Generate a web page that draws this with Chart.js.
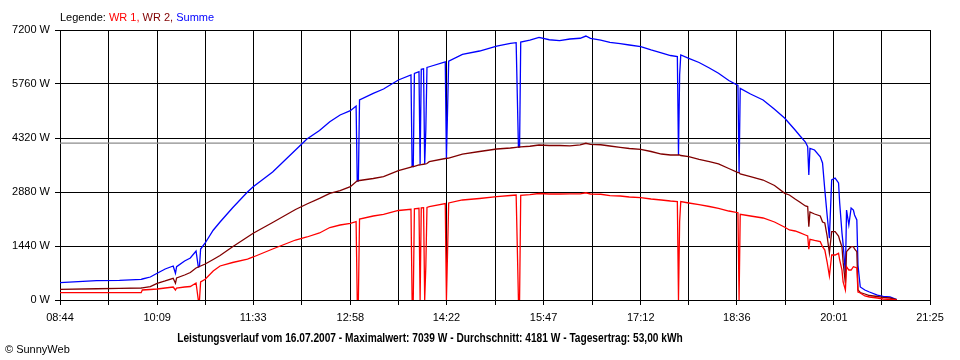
<!DOCTYPE html>
<html><head><meta charset="utf-8">
<script src="https://cdn.jsdelivr.net/npm/chart.js@4.4.0/dist/chart.umd.min.js"></script>
<style>
html,body{margin:0;padding:0;background:#fff;}
#wrap{position:relative;width:960px;height:360px;overflow:hidden;background:#fff;}
canvas{position:absolute;left:0;top:0;}
.txt{position:absolute;white-space:nowrap;font-family:'Liberation Sans',Arial,sans-serif;font-size:11px;line-height:11px;color:#000;}
#legend{left:60px;top:12px;}
#title{left:430px;top:332px;font-weight:bold;font-size:12.5px;line-height:12px;}
#copy{left:5px;top:344px;}
</style></head>
<body><div id="wrap"><canvas id="c" width="960" height="360"></canvas>
<div id="legend" class="txt"></div><div id="title" class="txt"></div><div id="copy" class="txt"></div></div>
<script>
// ---- data ----
const times = ['08:44','09:16','09:36','09:55','09:56','10:03','10:09','10:16','10:23','10:25','10:26','10:33','10:38','10:43','10:45','10:46','10:47','10:51','10:58','11:04','11:15','11:28','11:33','11:50','12:10','12:20','12:31','12:40','12:49','12:58','13:03','13:04','13:05','13:06','13:18','13:27','13:40','13:51','13:52','13:53','13:54','13:58','13:59','14:00','14:02','14:03','14:04','14:05','14:07','14:21','14:22','14:23','14:24','14:36','14:51','15:06','15:18','15:23','15:24','15:25','15:26','15:27','15:35','15:43','15:52','16:01','16:10','16:19','16:24','16:28','16:37','16:45','16:54','17:02','17:12','17:21','17:30','17:38','17:44','17:45','17:46','17:47','17:54','18:03','18:12','18:20','18:29','18:37','18:38','18:39','18:48','18:59','19:09','19:18','19:22','19:27','19:31','19:36','19:38','19:39','19:40','19:44','19:49','19:51','19:53','19:55','19:57','19:59','20:02','20:05','20:06','20:08','20:09','20:11','20:12','20:14','20:16','20:18','20:19','20:21','20:22','20:24','20:28','20:32','20:39','20:44','20:50','20:56'];
const wr1 = [195,195,195,195,267,280,293,320,347,267,320,347,360,453,0,0,480,552,775,907,1000,1093,1147,1360,1600,1680,1787,1933,2000,2045,2088,0,0,2160,2240,2285,2387,2420,0,0,2430,2445,0,2455,2460,0,900,2470,2488,2573,0,1280,2587,2667,2707,2755,2787,2800,1417,0,0,2790,2810,2840,2827,2827,2830,2830,2860,2827,2820,2781,2773,2747,2728,2693,2667,2640,2627,0,2088,2627,2587,2541,2493,2445,2373,2328,0,2285,2240,2187,2080,1939,1867,1840,1795,1733,1707,1352,1619,1587,1555,1421,1333,1013,640,1200,1200,1245,1067,800,480,267,888,800,800,888,880,853,213,187,107,80,53,27,13,0];
const wr2 = [285,300,312,320,322,355,445,507,579,445,587,667,733,853,880,893,907,960,1080,1187,1421,1680,1779,2067,2413,2560,2712,2845,2915,3021,3155,3173,3175,3187,3240,3288,3448,3540,3560,3560,3565,3600,3605,3610,3620,3625,3630,3640,3690,3773,3775,3780,3785,3893,3960,4027,4053,4072,4075,4075,4080,4085,4100,4133,4120,4120,4110,4135,4179,4152,4140,4107,4072,4040,4019,3960,3893,3867,3867,3867,3867,3853,3821,3752,3693,3627,3507,3395,3395,3360,3293,3200,3053,2845,2800,2693,2613,2507,2493,1955,2347,2293,2240,2080,2053,1707,1253,1821,1821,1707,1600,1413,1010,445,1288,1360,1421,1421,1360,1288,267,200,160,120,93,72,53,10];
const summe = [461,515,525,552,560,613,712,827,907,712,888,1040,1120,1307,880,893,1360,1520,1860,2080,2460,2880,3021,3413,4000,4293,4520,4755,4933,5048,5173,3173,3175,5333,5512,5627,5867,6000,3560,3560,6040,6090,3605,6150,6165,3625,4560,6200,6220,6347,3775,5060,6370,6552,6640,6773,6845,6861,5467,4075,4080,6880,6930,7005,6940,6915,6960,6980,7039,6978,6933,6870,6835,6800,6755,6667,6590,6520,6493,3867,6000,6533,6445,6333,6187,6045,5853,5720,3395,5645,5493,5333,5085,4845,4707,4533,4387,4213,4088,3333,4045,4000,3821,3653,2933,2267,1650,3200,3253,3120,2587,1787,1490,712,2400,2000,2453,2400,2267,2133,933,347,267,213,133,95,80,10];
const average = 4181;
const xTickLabels = ['08:44','10:09','11:33','12:58','14:22','15:47','17:12','18:36','20:01','21:25'];
const yTicks = [0,1440,2880,4320,5760,7200];
const legendPrefix = 'Legende: ';
const seriesNames = ['WR 1', 'WR 2', 'Summe'];
const titleText = 'Leistungsverlauf vom 16.07.2007 - Maximalwert: 7039 W - Durchschnitt: 4181 W - Tagesertrag: 53,00 kWh';
const copyText = '\u00A9 SunnyWeb';

// ---- build ----
const colors = ['#ff0000', '#800000', '#0000ff'];
const parseT = s => { const p = s.split(':'); return (+p[0]) * 60 + (+p[1]); };
const tx = times.map(parseT);
const pts = arr => arr.map((v, i) => ({x: tx[i], y: v}));
const labelVals = xTickLabels.map(parseT);
const tMin = labelVals[0], tMax = labelVals[labelVals.length - 1];
const gridVals = [];
labelVals.forEach((v, i) => { gridVals.push(v); if (i < labelVals.length - 1) gridVals.push((v + labelVals[i + 1]) / 2); });
const labelMap = {}; labelVals.forEach((v, i) => labelMap[v] = xTickLabels[i]);

const leg = document.getElementById('legend');
leg.appendChild(document.createTextNode(legendPrefix));
seriesNames.forEach((n, i) => {
  const s = document.createElement('span');
  s.style.color = colors[i];
  s.textContent = n + (i < seriesNames.length - 1 ? ', ' : '');
  leg.appendChild(s);
});
const titleEl = document.getElementById('title');
titleEl.textContent = titleText;
// condensed look of the original caption: squeeze horizontally to its width (~506px), centred
const sx = 506 / titleEl.offsetWidth;
titleEl.style.transform = 'translateX(-50%) scaleX(' + sx.toFixed(4) + ')';
document.getElementById('copy').textContent = copyText;

const lineDs = (label, arr, color, order) => ({
  label, data: pts(arr), borderColor: color, backgroundColor: color,
  borderWidth: 1.3, pointRadius: 0, tension: 0, fill: false, order
});

new Chart(document.getElementById('c'), {
  type: 'line',
  data: {
    datasets: [
      lineDs(seriesNames[0], wr1, colors[0], 1),
      lineDs(seriesNames[1], wr2, colors[1], 2),
      lineDs(seriesNames[2], summe, colors[2], 3),
      {label: 'avg', data: [{x: tMin, y: average}, {x: tMax, y: average}], borderColor: '#8c8c8c', borderWidth: 1.2, pointRadius: 0, order: 4}
    ]
  },
  options: {
    responsive: false, animation: false, events: [],
    layout: {padding: {top: 30, right: 30, left: 0, bottom: 0}},
    plugins: {legend: {display: false}, tooltip: {enabled: false}, title: {display: false}},
    scales: {
      x: {
        type: 'linear', min: tMin, max: tMax,
        afterBuildTicks: s => { s.ticks = gridVals.map(v => ({value: v})); },
        afterFit: s => { s.height = 60; },
        ticks: {autoSkip: false, maxRotation: 0, padding: 6, color: '#000',
          font: {family: "'Liberation Sans',Arial,sans-serif", size: 11},
          callback: v => labelMap[v] || ''},
        grid: {color: '#000', lineWidth: 1, tickLength: 5, drawTicks: true},
        border: {color: '#000', width: 1}
      },
      y: {
        min: 0, max: 7200,
        afterBuildTicks: s => { s.ticks = yTicks.map(v => ({value: v})); },
        afterFit: s => { s.width = 60; },
        ticks: {autoSkip: false, padding: 5, color: '#000',
          font: {family: "'Liberation Sans',Arial,sans-serif", size: 11},
          callback: v => v + ' W'},
        grid: {color: '#000', lineWidth: 1, tickLength: 5, drawTicks: true},
        border: {color: '#000', width: 1}
      }
    }
  }
});
</script>
</body></html>
